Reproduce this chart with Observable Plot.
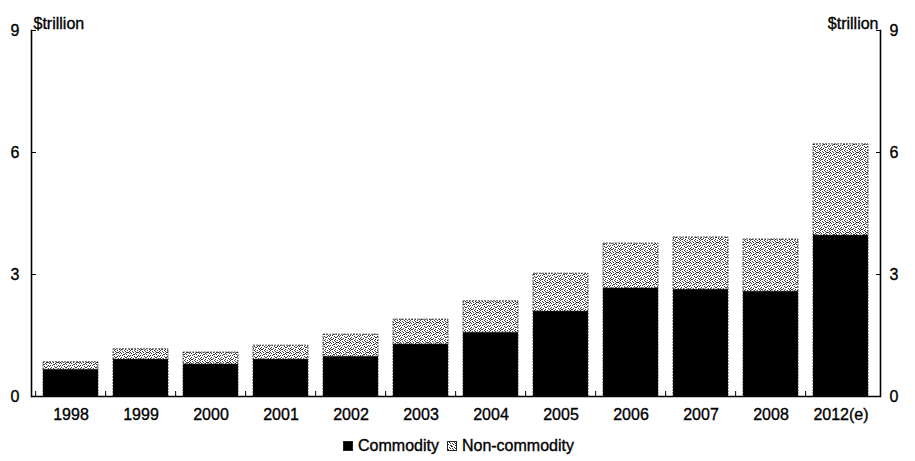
<!DOCTYPE html>
<html><head><meta charset="utf-8">
<script src="https://cdn.jsdelivr.net/npm/d3@7"></script>
<script src="https://cdn.jsdelivr.net/npm/@observablehq/plot@0.6"></script>
<style>
body{margin:0;background:#fff;font-family:"Liberation Sans",Arial,sans-serif;color:#000;}
#chart{width:915px;height:461px;position:relative;overflow:hidden}
#chart svg text{stroke:#000;stroke-width:0.35px}
.legend{position:absolute;left:0;top:437px;width:915px;display:flex;justify-content:center;align-items:center;font-size:16px;padding-left:2px;box-sizing:border-box;-webkit-text-stroke:0.35px #000}
.legend .item{display:flex;align-items:center;margin:0 4px}
.legend svg{margin-right:5px}
</style></head><body><div id="chart"></div>
<script>
const years = ["1998","1999","2000","2001","2002","2003","2004","2005","2006","2007","2008","2012(e)"];
const commodity = [0.66,0.91,0.79,0.91,0.98,1.28,1.57,2.09,2.66,2.63,2.58,3.96];
const nonCommodity = [0.18,0.25,0.29,0.34,0.54,0.61,0.77,0.93,1.10,1.28,1.28,2.24];
const seriesNames = ["Commodity","Non-commodity"];
const yTicks = [0,3,6,9];
const unitLabel = "$trillion";

const W = 915, H = 430, mL = 31, mR = 35, mT = 30, mB = 34;
const step = (W - mL - mR) / years.length;

const rows = [];
years.forEach((y,i)=>{
  rows.push({year:y, series:seriesNames[0], value:commodity[i]});
  rows.push({year:y, series:seriesNames[1], value:nonCommodity[i]});
});

const font = "Liberation Sans, Arial, sans-serif";
const svg = Plot.plot({
  width: W, height: H,
  marginLeft: mL, marginRight: mR, marginTop: mT, marginBottom: mB,
  style: {fontSize: "16px", fontFamily: font, color: "#000", background: "#fff"},
  x: {domain: years, paddingInner: 0.21, paddingOuter: 0.105, label: null, axis: null},
  y: {domain: [0, 9], label: null, axis: null},
  color: {domain: seriesNames, range: ["#000", "url(#stipple)"]},
  marks: [
    Plot.barY(rows, {x: "year", y: "value", fill: "series", stroke: "#222", strokeWidth: 0.8, strokeDasharray: "2,1"}),
    Plot.frame({anchor: "left", strokeWidth: 1.6}),
    Plot.frame({anchor: "right", strokeWidth: 1.6}),
    Plot.ruleY([0], {strokeWidth: 1.6}),
    Plot.axisY({anchor: "left", ticks: yTicks, tickSize: 5, dx: 5, fill: "none", label: null}),
    Plot.axisY({anchor: "left", ticks: yTicks, tickSize: 0, tickPadding: 12, label: null}),
    Plot.axisY({anchor: "right", ticks: yTicks, tickSize: 5, dx: -5, fill: "none", label: null}),
    Plot.axisY({anchor: "right", ticks: yTicks, tickSize: 0, tickPadding: 9, label: null}),
    Plot.axisX({tickSize: 0, tickPadding: 12, label: null}),
    Plot.axisX({tickSize: 5, dy: -5, dx: -step/2, fill: "none", label: null}),
    Plot.text([unitLabel], {frameAnchor: "top-left", textAnchor: "start", dx: 2, dy: -13, fontSize: 16}),
    Plot.text([unitLabel], {frameAnchor: "top-right", textAnchor: "end", dx: -2, dy: -13, fontSize: 16})
  ]
});

// irregular stipple texture tile (decorative)
const dots = [[0,0],[4,0],[7,0],[2,1],[5,1],[9,1],[0,2],[3,2],[7,2],[8,2],[1,3],[5,3],[9,3],[3,4],[6,4],[0,5],[2,5],[8,5],[4,6],[7,6],[9,6],[1,7],[5,7],[6,7],[0,8],[3,8],[8,8],[2,9],[5,9],[9,9],[6,2],[4,4],[1,9]];
const dotRects = dots.map(([x,y])=>`<rect x="${x}" y="${y}" width="1" height="1"/>`).join("");
const patternDefs = `<defs><pattern id="stipple" patternUnits="userSpaceOnUse" width="10" height="10">
<rect width="10" height="10" fill="#fff"/><g fill="#3a3a3a" shape-rendering="crispEdges">${dotRects}</g></pattern></defs>`;
svg.insertAdjacentHTML("afterbegin", patternDefs);

const chart = document.getElementById("chart");
chart.appendChild(svg);

const legend = document.createElement("div");
legend.className = "legend";
const fills = ["#000", "url(#stipple)"];
legend.innerHTML = seriesNames.map((n,i)=>`<span class="item"><svg width="10" height="10" style="-webkit-text-stroke:0">${patternDefs.replace('id="stipple"','id="stippleL"').replace('width="10" height="10">','width="5" height="5">')}<rect x="0.5" y="0.5" width="9" height="9" fill="${i ? 'url(#stippleL)' : '#000'}" stroke="#222" stroke-width="1"/></svg>${n}</span>`).join("");
chart.appendChild(legend);
</script>
</body></html>
